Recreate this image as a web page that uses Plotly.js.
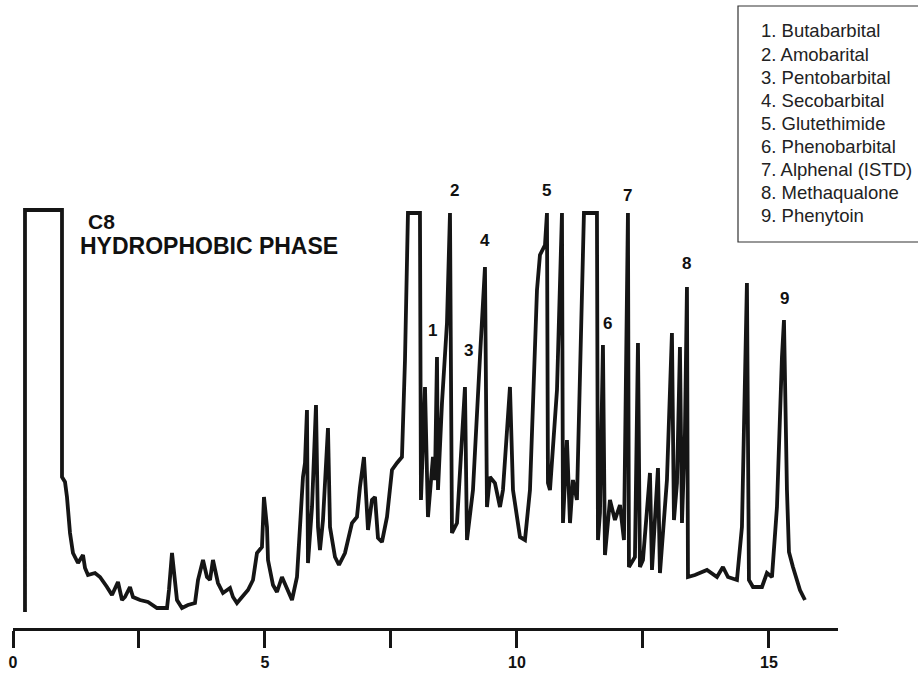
<!DOCTYPE html>
<html>
<head>
<meta charset="utf-8">
<script src="https://cdn.plot.ly/plotly-3.0.1.min.js"></script>
<style>html,body{margin:0;padding:0;background:#fff;}#chart{width:918px;height:675px;}</style>
</head>
<body>
<div id="chart"></div>
<script>
// Retention time (min) and detector response (arbitrary units)
const time = [0.238,0.238,0.972,0.972,1.032,1.071,1.131,1.190,1.290,1.389,1.429,1.488,1.627,1.726,1.865,1.964,2.083,2.163,2.222,2.321,2.381,2.520,2.679,2.857,3.056,3.095,3.155,3.214,3.254,3.353,3.472,3.611,3.671,3.770,3.849,3.909,3.968,4.067,4.167,4.306,4.365,4.444,4.544,4.663,4.762,4.841,4.940,4.980,5.040,5.060,5.159,5.238,5.337,5.437,5.536,5.635,5.694,5.754,5.794,5.833,5.853,5.933,6.012,6.052,6.091,6.151,6.250,6.290,6.389,6.468,6.587,6.726,6.825,6.885,6.964,7.044,7.123,7.183,7.242,7.321,7.421,7.520,7.619,7.718,7.778,7.837,8.075,8.095,8.175,8.234,8.333,8.373,8.413,8.433,8.512,8.611,8.671,8.710,8.810,8.869,8.968,9.008,9.127,9.266,9.365,9.405,9.464,9.563,9.663,9.722,9.861,9.921,10.060,10.159,10.258,10.397,10.456,10.556,10.595,10.615,10.655,10.794,10.893,10.913,10.992,11.052,11.111,11.190,11.290,11.329,11.587,11.607,11.647,11.706,11.746,11.845,11.944,12.044,12.123,12.202,12.222,12.341,12.401,12.440,12.500,12.639,12.679,12.738,12.798,12.837,12.937,12.976,13.075,13.115,13.175,13.234,13.274,13.333,13.373,13.393,13.532,13.770,13.968,14.087,14.187,14.365,14.464,14.563,14.603,14.683,14.861,14.960,15.060,15.159,15.258,15.298,15.357,15.397,15.476,15.615,15.714];
const response = [16,418,418,151,146,131,95,75,65,73,60,53,55,51,41,33,46,28,31,41,31,28,26,20,20,38,75,48,28,20,23,25,48,68,51,48,68,45,35,40,31,25,31,38,48,75,81,131,101,68,43,36,51,40,28,51,101,151,165,218,65,121,223,101,78,108,200,101,71,63,75,105,111,141,171,98,128,131,90,86,111,158,165,171,268,415,415,128,241,111,171,148,271,138,225,305,415,95,105,155,241,88,138,271,361,121,151,145,121,138,241,138,91,88,138,338,373,383,415,145,138,238,415,105,188,105,148,128,338,415,415,88,115,283,73,128,108,123,88,415,61,71,285,61,68,155,58,108,160,55,128,148,295,108,145,281,105,195,341,51,53,58,51,61,51,48,101,345,48,41,41,55,51,121,271,308,138,76,61,38,28];

// Peak identification labels
const peakLabels = ['1','2','3','4','5','6','7','8','9'];
const peakLabelTime = [8.333,8.770,9.048,9.365,10.595,11.806,12.202,13.373,15.317];
const peakLabelResp = [298,438,278,388,438,305,433,365,330];

const compounds = ['1. Butabarbital','2. Amobarital','3. Pentobarbital','4. Secobarbital','5. Glutethimide','6. Phenobarbital','7. Alphenal (ISTD)','8. Methaqualone','9. Phenytoin'];

const tickVals = [0,2.5,5,7.5,10,12.5,15];
const tickText = ['0','','5','','10','','15'];

const FONT = 'Liberation Sans, Arial, Helvetica, sans-serif';
const W = 918, H = 675, ML = 13, MR = 80, MT = 10, MB = 47;
const pw = W - ML - MR, ph = H - MT - MB;
const px2x = p => (p - ML) / pw;
const py2y = p => (H - MB - p) / ph;

const annotations = [];
peakLabels.forEach((t, i) => {
  annotations.push({x: peakLabelTime[i], y: peakLabelResp[i], xref: 'x', yref: 'y', text: t, showarrow: false,
    font: {family: FONT, size: 17, color: '#111', weight: 'bold'}});
});
annotations.push({x: px2x(86), y: py2y(221), xref: 'paper', yref: 'paper', xanchor: 'left', yanchor: 'middle', text: 'C8', showarrow: false,
  font: {family: FONT, size: 21, color: '#111', weight: 'bold'}});
annotations.push({x: px2x(78), y: py2y(246), xref: 'paper', yref: 'paper', xanchor: 'left', yanchor: 'middle', text: 'HYDROPHOBIC PHASE', showarrow: false,
  font: {family: FONT, size: 23, color: '#111', weight: 'bold'}});
compounds.forEach((c, i) => {
  annotations.push({x: px2x(759), y: py2y(31 + 23 * i), xref: 'paper', yref: 'paper', xanchor: 'left', yanchor: 'middle', text: c, showarrow: false,
    font: {family: FONT, size: 18.5, color: '#222'}});
});

const shapes = [{type: 'rect', xref: 'paper', yref: 'paper', x0: px2x(738), x1: px2x(960), y0: py2y(242), y1: py2y(6),
  line: {color: '#333', width: 1.2}, fillcolor: 'rgba(0,0,0,0)'}];

const data = [{x: time, y: response, type: 'scatter', mode: 'lines', line: {color: '#151515', width: 3.8, shape: 'linear'}, hoverinfo: 'x+y'}];

const layout = {
  width: W, height: H, margin: {l: ML, r: MR, t: MT, b: MB},
  paper_bgcolor: '#fff', plot_bgcolor: '#fff', showlegend: false,
  xaxis: {range: [0, 16.37], tickvals: tickVals, ticktext: tickText, ticks: 'outside', ticklen: 17, tickwidth: 3, tickcolor: '#151515',
    showline: true, linewidth: 3, linecolor: '#151515', showgrid: false, zeroline: false, ticklabelstandoff: 1,
    tickfont: {family: FONT, size: 16, color: '#111', weight: 'bold'}},
  yaxis: {range: [0, ph], showline: false, showgrid: false, zeroline: false, showticklabels: false, ticks: ''},
  annotations: annotations, shapes: shapes
};

Plotly.newPlot('chart', data, layout, {displayModeBar: false, staticPlot: true});
</script>
</body>
</html>
